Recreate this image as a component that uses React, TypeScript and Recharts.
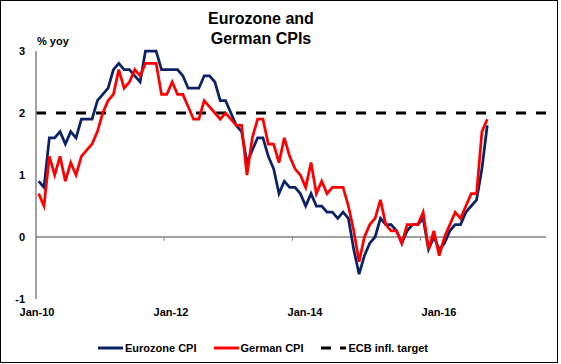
import React from 'react';
import {
  LineChart,
  Line,
  XAxis,
  YAxis,
  ReferenceLine,
  Legend
} from 'recharts';

// monthly, Jan-10 .. Jan-17
const years = [10, 11, 12, 13, 14, 15, 16, 17];
const monthNames = ['Jan', 'Feb', 'Mar', 'Apr', 'May', 'Jun', 'Jul', 'Aug', 'Sep', 'Oct', 'Nov', 'Dec'];
const months: string[] = [];
years.forEach((y) => monthNames.forEach((m) => months.push(`${m}-${y}`)));

const eurozoneCpi = [
  0.9, 0.8, 1.6, 1.6, 1.7, 1.5, 1.7, 1.6, 1.9, 1.9, 1.9, 2.2,
  2.3, 2.4, 2.7, 2.8, 2.7, 2.7, 2.6, 2.5, 3.0, 3.0, 3.0, 2.7,
  2.7, 2.7, 2.7, 2.6, 2.4, 2.4, 2.4, 2.6, 2.6, 2.5, 2.2, 2.2,
  2.0, 1.8, 1.7, 1.2, 1.4, 1.6, 1.6, 1.3, 1.1, 0.7, 0.9, 0.8,
  0.8, 0.7, 0.5, 0.7, 0.5, 0.5, 0.4, 0.4, 0.3, 0.4, 0.3, -0.2,
  -0.6, -0.3, -0.1, 0.0, 0.3, 0.2, 0.2, 0.1, -0.1, 0.1, 0.2, 0.2,
  0.3, -0.2, 0.0, -0.2, -0.1, 0.1, 0.2, 0.2, 0.4, 0.5, 0.6, 1.1,
  1.8
];

const germanCpi = [
  0.7, 0.5, 1.3, 1.0, 1.3, 0.9, 1.2, 1.0, 1.3, 1.4, 1.5, 1.7,
  2.0, 2.2, 2.3, 2.7, 2.4, 2.5, 2.7, 2.6, 2.8, 2.8, 2.8, 2.3,
  2.3, 2.5, 2.3, 2.3, 2.1, 1.9, 1.9, 2.2, 2.1, 2.0, 1.9, 2.0,
  1.9, 1.8, 1.8, 1.0, 1.6, 1.9, 1.9, 1.5, 1.5, 1.2, 1.6, 1.3,
  1.1, 1.0, 0.8, 1.2, 0.7, 0.9, 0.7, 0.8, 0.8, 0.8, 0.5, 0.1,
  -0.4, 0.0, 0.2, 0.3, 0.6, 0.2, 0.1, 0.1, -0.1, 0.2, 0.2, 0.2,
  0.4, -0.2, 0.1, -0.3, 0.0, 0.2, 0.4, 0.3, 0.5, 0.7, 0.7, 1.7,
  1.9
];

const ecbTarget = 2;
const yTicks = [-1, 0, 1, 2, 3];
// every second January gets a label
const labelTicks = [0, 24, 48, 72];
// tick marks on the zero line, between Dec and Jan
const yearBreaks = [23.5, 47.5, 71.5];

const data = months.map((m, i) => ({
  idx: i,
  month: m,
  eurozone: eurozoneCpi[i],
  german: germanCpi[i]
}));

const FONT = 'Arial, "Liberation Sans", sans-serif';
const NAVY = '#0B2364';
const RED = '#FF0000';

const ChartLegend = () => (
  <div
    style={{
      display: 'flex',
      alignItems: 'center',
      height: 20,
      paddingLeft: 98,
      fontFamily: FONT,
      fontSize: 11,
      fontWeight: 700,
      color: '#000'
    }}
  >
    <svg width={25} height={4}>
      <line x1={0} y1={2} x2={25} y2={2} stroke={NAVY} strokeWidth={3} />
    </svg>
    <span style={{ marginLeft: 2, marginRight: 17 }}>Eurozone CPI</span>
    <svg width={25} height={4}>
      <line x1={0} y1={2} x2={25} y2={2} stroke={RED} strokeWidth={3} />
    </svg>
    <span style={{ marginLeft: 2, marginRight: 18 }}>German CPI</span>
    <svg width={25} height={4}>
      <line x1={0} y1={2} x2={25} y2={2} stroke="#000" strokeWidth={3} strokeDasharray="10 9" />
    </svg>
    <span style={{ marginLeft: 2 }}>ECB infl. target</span>
  </div>
);

export default function App() {
  return (
    <div style={{ position: 'absolute', left: 0, top: 0, width: 561, height: 364, background: '#fff' }}>
      <div
        style={{
          position: 'absolute',
          left: 0,
          top: 0,
          width: 558,
          height: 363,
          border: '1px solid #000',
          boxSizing: 'border-box'
        }}
      />
      <div
        style={{
          position: 'absolute',
          left: 161,
          top: 9,
          width: 200,
          textAlign: 'center',
          fontFamily: FONT,
          fontWeight: 700,
          fontSize: 16,
          lineHeight: '20px',
          color: '#000'
        }}
      >
        Eurozone and
        <br />
        German CPIs
      </div>
      <div
        style={{
          position: 'absolute',
          left: 37,
          top: 35,
          fontFamily: FONT,
          fontWeight: 700,
          fontSize: 11,
          lineHeight: '13px',
          color: '#000'
        }}
      >
        % yoy
      </div>
      <LineChart width={561} height={364} data={data} margin={{ top: 51, right: 15, left: 6, bottom: 6 }}>
        <XAxis dataKey="idx" type="number" domain={[-0.5, 84.5]} height={0} hide />
        {/* label axis: the source spaces its date labels a little tighter than the months */}
        <XAxis
          xAxisId="lbl"
          dataKey="idx"
          type="number"
          domain={[-0.18, 91.16]}
          allowDataOverflow
          ticks={labelTicks}
          interval={0}
          tickFormatter={(v: number) => months[v] ?? ''}
          axisLine={false}
          tickLine={false}
          tickSize={0}
          tickMargin={9}
          height={39}
          tick={{ fill: '#000', fontSize: 11, fontWeight: 700, fontFamily: FONT }}
        />
        <YAxis
          domain={[-1, 3]}
          ticks={yTicks}
          width={30}
          axisLine={{ stroke: '#808080', strokeWidth: 1.5 }}
          tickLine={false}
          tickSize={0}
          tickMargin={11}
          tick={{ fill: '#000', fontSize: 11, fontWeight: 700, fontFamily: FONT }}
        />
        <ReferenceLine y={0} stroke="#808080" strokeWidth={1.5} />
        {yearBreaks.map((b) => (
          <ReferenceLine
            key={b}
            segment={[{ x: b, y: 0 }, { x: b, y: -0.06 }]}
            stroke="#808080"
            strokeWidth={1}
          />
        ))}
        <ReferenceLine y={ecbTarget} stroke="#000" strokeWidth={3} strokeDasharray="10 10" />
        <Line
          dataKey="eurozone"
          name="Eurozone CPI"
          type="linear"
          stroke={NAVY}
          strokeWidth={2.75}
          dot={false}
          isAnimationActive={false}
        />
        <Line
          dataKey="german"
          name="German CPI"
          type="linear"
          stroke={RED}
          strokeWidth={2.75}
          dot={false}
          isAnimationActive={false}
        />
        <Legend verticalAlign="bottom" content={<ChartLegend />} wrapperStyle={{ width: 561, left: 0 }} />
      </LineChart>
    </div>
  );
}
